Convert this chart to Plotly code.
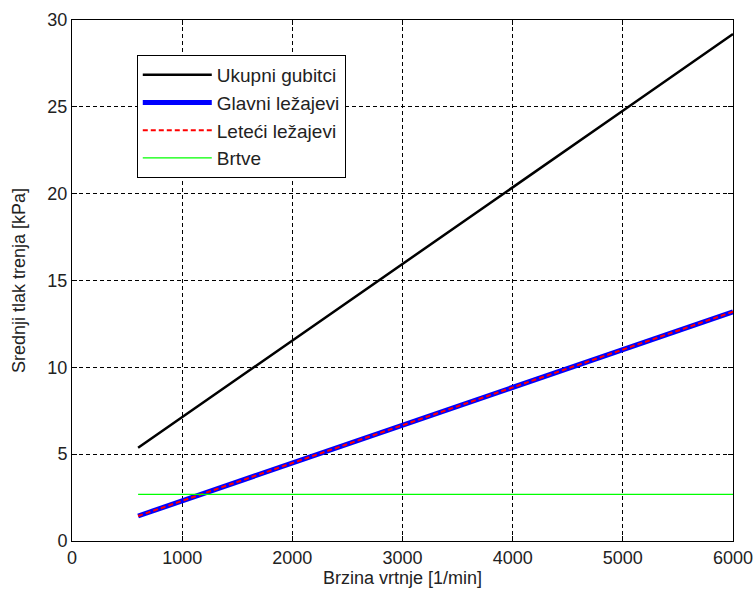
import plotly.graph_objects as go

# Data
speed = [600, 1000, 2000, 3000, 4000, 5000, 6000]
ukupni_gubitci = [5.37, 7.13, 11.54, 15.95, 20.36, 24.77, 29.19]
glavni_lezajevi = [1.44, 2.31, 4.49, 6.67, 8.85, 11.02, 13.20]
leteci_lezajevi = [1.44, 2.31, 4.49, 6.67, 8.85, 11.02, 13.20]
brtve = [2.69, 2.69, 2.69, 2.69, 2.69, 2.69, 2.69]

x_ticks = [0, 1000, 2000, 3000, 4000, 5000, 6000]
y_ticks = [0, 5, 10, 15, 20, 25, 30]

FONT = "Liberation Sans, Arial, sans-serif"
TXT = "#222222"
FS = 18

fig = go.Figure()
fig.add_trace(go.Scatter(x=speed, y=ukupni_gubitci, mode="lines", name="Ukupni gubitci",
                         line=dict(color="black", width=2.5), legendgroup="a"))
fig.add_trace(go.Scatter(x=speed, y=glavni_lezajevi, mode="lines", name="Glavni ležajevi",
                         line=dict(color="#0000ff", width=5), legendgroup="b"))
fig.add_trace(go.Scatter(x=speed, y=leteci_lezajevi, mode="lines", name="Leteći ležajevi",
                         line=dict(color="#ff0000", width=2, dash="5px,3px"), legendgroup="c"))
fig.add_trace(go.Scatter(x=speed, y=brtve, mode="lines", name="Brtve",
                         line=dict(color="#00ff00", width=1.2), legendgroup="d"))

axis_common = dict(
    showline=True, linecolor="black", linewidth=1, mirror="allticks",
    ticks="inside", ticklen=5, tickcolor="black", tickwidth=1,
    showgrid=True, gridcolor="black", gridwidth=1, griddash="4px,3px",
    zeroline=False, automargin=False,
    tickfont=dict(family=FONT, size=FS, color=TXT),
)

fig.update_xaxes(range=[0, 6000], tickvals=x_ticks, ticktext=[str(v) for v in x_ticks],
                 title=dict(text="Brzina vrtnje [1/min]", font=dict(family=FONT, size=FS, color=TXT),
                            standoff=4),
                 **axis_common)
fig.update_yaxes(range=[0, 30], tickvals=y_ticks, ticktext=[str(v) for v in y_ticks],
                 title=dict(text="Srednji tlak trenja [kPa]", font=dict(family=FONT, size=FS, color=TXT),
                            standoff=17),
                 **axis_common)

fig.update_layout(
    width=755, height=596,
    margin=dict(l=72, r=22, t=20, b=55),
    paper_bgcolor="white", plot_bgcolor="white",
    font=dict(family=FONT, size=FS, color=TXT),
    showlegend=True,
    legend=dict(x=0.098, y=0.933, xanchor="left", yanchor="top",
                bgcolor="white", bordercolor="black", borderwidth=1,
                font=dict(family=FONT, size=19, color=TXT),
                tracegroupgap=4, itemwidth=69, traceorder="normal"),
)

fig.write_html("out.html", config={"displayModeBar": False})

# remove the default page margin so the figure sits at the window's top-left corner
with open("out.html", "r", encoding="utf-8") as f:
    html = f.read()
html = html.replace("<body>", '<body style="margin:0;padding:0;overflow:hidden">', 1)
with open("out.html", "w", encoding="utf-8") as f:
    f.write(html)
